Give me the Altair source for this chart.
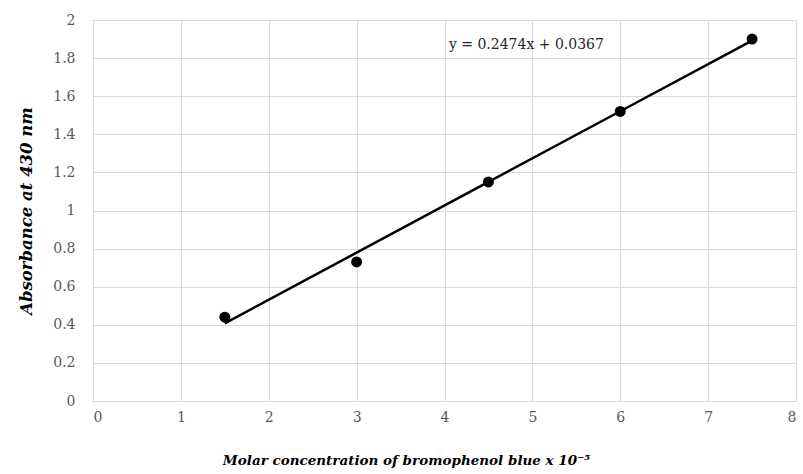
import altair as alt
import pandas as pd

conc = [1.5, 3.0, 4.5, 6.0, 7.5]
absorb = [0.44, 0.73, 1.15, 1.52, 1.90]
slope = [0.2474]
intercept = [0.0367]
eq_label = ["y = 0.2474x + 0.0367"]
eq_pos_x = [4.05]
eq_pos_y = [1.87]
x_ticks = [0, 1, 2, 3, 4, 5, 6, 7, 8]
y_ticks = [0, 0.2, 0.4, 0.6, 0.8, 1.0, 1.2, 1.4, 1.6, 1.8, 2.0]

df = pd.DataFrame({"x": conc, "y": absorb})
eq_df = pd.DataFrame({"x": eq_pos_x, "y": eq_pos_y, "label": eq_label})

FONT = "DejaVu Serif"

xscale = alt.Scale(domain=[0, 8], nice=False, zero=True)
yscale = alt.Scale(domain=[0, 2], nice=False, zero=True)

xaxis = alt.Axis(
    title="Molar concentration of bromophenol blue x 10⁻⁵",
    values=x_ticks, format="d", labelOverlap=False,
    labelPadding=9, titleFontSize=13.5,
    titleX=313, titleY=59, titleAlign="center", titleBaseline="middle",
)
yaxis = alt.Axis(
    title="Absorbance at 430 nm",
    values=y_ticks, format=".1~f", labelOverlap=False,
    labelPadding=18, titlePadding=18, titleFontSize=16.5,
)

base = alt.Chart(df)

points = base.mark_circle(size=120, color="#000000", opacity=1).encode(
    x=alt.X("x:Q", scale=xscale, axis=xaxis),
    y=alt.Y("y:Q", scale=yscale, axis=yaxis),
)

fit = base.transform_calculate(
    yfit=f"{intercept[0]} + {slope[0]} * datum.x"
).mark_line(color="#000000", strokeWidth=2.5).encode(
    x=alt.X("x:Q", scale=xscale, axis=xaxis),
    y=alt.Y("yfit:Q", scale=yscale, axis=yaxis),
)

eq = alt.Chart(eq_df).mark_text(
    align="left", baseline="middle", font=FONT, fontSize=14, color="#262626"
).encode(
    x=alt.X("x:Q", scale=xscale, axis=xaxis),
    y=alt.Y("y:Q", scale=yscale, axis=yaxis),
    text="label:N",
)

chart = alt.layer(points, fit, eq).properties(
    width=703, height=381,
    autosize=alt.AutoSizeParams(type="none"),
    padding={"left": 93, "top": 20, "right": 7, "bottom": 73},
).configure(
    background="white", font=FONT
).configure_view(
    stroke=None
).configure_axis(
    grid=True, gridColor="#d9d9d9", gridWidth=1,
    domainColor="#d9d9d9", ticks=False,
    labelFont=FONT, labelFontSize=14, labelColor="#595959",
    titleFont=FONT, titleFontWeight="bold", titleFontStyle="italic",
    titleColor="#000000",
)

chart.save("out.html", embed_options={"renderer": "svg", "actions": False})
